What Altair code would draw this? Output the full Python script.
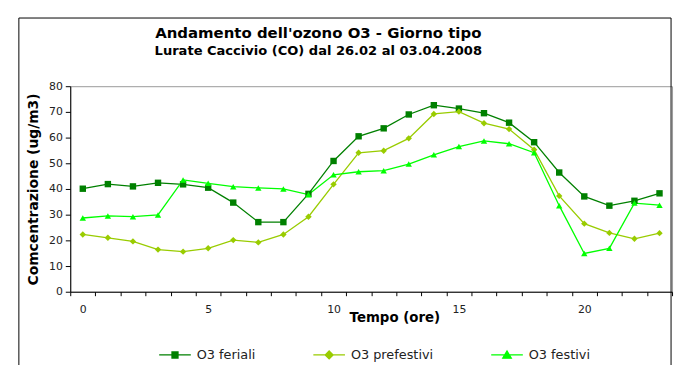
import altair as alt
import pandas as pd

# ---- data ----
ore = list(range(24))
feriali = [40.1, 41.9, 41.0, 42.4, 41.8, 40.5, 34.7, 27.1, 27.1, 38.1, 50.9, 60.5,
           63.6, 69.0, 72.6, 71.3, 69.5, 65.8, 58.2, 46.4, 37.1, 33.5, 35.4, 38.3]
prefestivi = [22.3, 21.0, 19.6, 16.4, 15.6, 16.9, 20.1, 19.2, 22.3, 29.2, 41.8, 54.1,
              54.9, 59.7, 69.2, 70.1, 65.6, 63.3, 55.3, 37.3, 26.5, 22.9, 20.6, 22.8]
festivi = [28.7, 29.5, 29.2, 29.9, 43.5, 42.2, 40.9, 40.4, 40.0, 37.8, 45.5, 46.7,
           47.1, 49.7, 53.3, 56.5, 58.7, 57.6, 54.1, 33.5, 14.9, 16.9, 34.5, 33.7]
serie = ["O3 feriali", "O3 prefestivi", "O3 festivi"]
y_ticks = [0, 10, 20, 30, 40, 50, 60, 70, 80]

# ---- styles ----
colori = ["#008000", "#99CC00", "#00FF00"]
forme = ["square", "diamond", "triangle-up"]
legend_paths = [
    "M-1,0H1M-0.19,-0.19H0.19V0.19H-0.19Z",
    "M-1,0H1M0,-0.25L0.25,0L0,0.25L-0.25,0Z",
    "M-1,0H1M0,-0.25L0.27,0.2H-0.27Z",
]
FONT = "DejaVu Sans"

rows = []
for nome, vals in zip(serie, [feriali, prefestivi, festivi]):
    for h, v in zip(ore, vals):
        rows.append({"ora": h, "valore": v, "serie": nome})
df = pd.DataFrame(rows)

x_enc = alt.X(
    "ora:Q",
    scale=alt.Scale(domain=[-0.5, 23.5], nice=False, zero=False),
    axis=alt.Axis(
        values=[h - 0.5 for h in range(25)],
        labelExpr="((datum.value + 0.5) % 5 == 0 && datum.value < 23) ? format(datum.value + 0.5, 'd') : ''",
        labelOffset=12.7,
        labelOverlap=False,
        labelFlush=False,
        labelPadding=8,
        tickSize=4,
        grid=False,
        title="Tempo (ore)",
        titleX=328,
        titleY=30,
        titleBaseline="alphabetic",
        titleAlign="center",
        titleFontSize=13.5,
    ),
)
y_enc = alt.Y(
    "valore:Q",
    scale=alt.Scale(domain=[0, 80], nice=False),
    axis=alt.Axis(
        values=y_ticks,
        tickSize=5,
        labelPadding=3,
        grid=False,
        title="Comcentrazione (ug/m3)",
        titleX=-37,
        titleY=104,
        titleAngle=270,
        titleAlign="center",
        titleBaseline="middle",
        titleFontSize=14,
    ),
)

frame = alt.Chart(pd.DataFrame({"f": [0]})).mark_rect(
    fill="transparent", stroke="#000000", strokeWidth=1
).encode(
    x=alt.value(-52), x2=alt.value(608), y=alt.value(-69), y2=alt.value(400)
)

layers = [frame]
for nome, col, forma in zip(serie, colori, forme):
    base = alt.Chart(df).transform_filter(alt.datum.serie == nome)
    layers.append(base.mark_line(color=col, strokeWidth=1.3).encode(x=x_enc, y=y_enc))
for nome, col, forma in zip(serie, colori, forme):
    base = alt.Chart(df).transform_filter(alt.datum.serie == nome)
    layers.append(
        base.mark_point(filled=True, color=col, shape=forma, size=42, opacity=1).encode(x=x_enc, y=y_enc)
    )

leg = alt.Legend(
    orient="none",
    legendX=89,
    legendY=255,
    direction="horizontal",
    title=None,
    symbolSize=1024,
    symbolStrokeWidth=1.3,
    labelFont=FONT,
    labelFontSize=13,
    labelColor="#222222",
    labelOffset=5,
    columnPadding=55,
    padding=0,
)
legend_layer = alt.Chart(df).transform_filter("false").mark_point(filled=True, opacity=1).encode(
    x=x_enc,
    y=y_enc,
    fill=alt.Fill("serie:N", scale=alt.Scale(domain=serie, range=colori), legend=leg),
    stroke=alt.Stroke("serie:N", scale=alt.Scale(domain=serie, range=colori), legend=leg),
    shape=alt.Shape("serie:N", scale=alt.Scale(domain=serie, range=legend_paths), legend=leg),
)
layers.append(legend_layer)

chart = alt.layer(*layers).properties(
    width=609,
    height=208,
    padding={"left": 63, "top": 77, "right": 4, "bottom": 72},
    autosize=alt.AutoSizeParams(type="none"),
    title=alt.TitleParams(
        text="Andamento dell'ozono O3 - Giorno tipo",
        subtitle="Lurate Caccivio (CO) dal 26.02 al 03.04.2008",
        font=FONT,
        fontSize=15.1,
        fontWeight="bold",
        color="#000000",
        subtitleFont=FONT,
        subtitleFontSize=13.2,
        subtitleFontWeight="bold",
        subtitleColor="#000000",
        subtitlePadding=4,
        anchor="middle",
        frame="group",
        dx=-53.5,
        offset=-40,
    ),
).configure_view(
    stroke="#999999", strokeWidth=1
).configure_axis(
    labelFont=FONT,
    labelFontSize=11,
    labelColor="#222222",
    titleFont=FONT,
    titleFontWeight="bold",
    titleColor="#000000",
    domainColor="#000000",
    tickColor="#000000",
)

chart.save("out.html", embed_options={"renderer": "svg", "actions": False})
